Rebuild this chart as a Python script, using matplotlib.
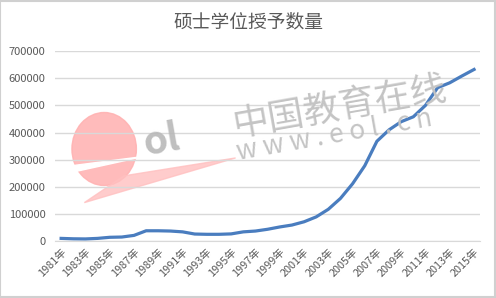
import matplotlib
matplotlib.use("Agg")
import matplotlib.pyplot as plt
from matplotlib.patches import Ellipse, Polygon, Rectangle

plt.rcParams['font.family'] = ['Noto Sans CJK SC', 'DejaVu Sans']

years = list(range(1981, 2016))
values = [11000, 9500, 9000, 11000, 15000, 16000, 22000, 39000, 39000, 38000,
          35000, 27000, 26000, 26000, 27500, 35000, 38000, 44500, 53000, 60000,
          72000, 90000, 118000, 158000, 212000, 278000, 368000, 410000, 440000, 458000,
          500000, 565000, 583000, 608000, 632000]
tick_labels = [f"{y}年" for y in years]
yticks = [0, 100000, 200000, 300000, 400000, 500000, 600000, 700000]
title = "硕士学位授予数量"

fig = plt.figure(figsize=(4.96, 2.98), dpi=100)
fig.patch.set_facecolor('white')
# outer border
fig.add_artist(Rectangle((0.001, 0.003), 0.996, 0.995, transform=fig.transFigure,
                         fill=False, edgecolor='#d0d0d0', lw=1.5))

ax = fig.add_axes([0.111, 0.19, 0.857, 0.639])

# watermark (behind)
wm = dict(transform=fig.transFigure, zorder=0)
fig.add_artist(Ellipse((0.21, 0.50), 0.13, 0.245, angle=0, color='#ffb0b0', alpha=0.85, **wm))
fig.add_artist(Polygon([[0.17, 0.32], [0.475, 0.47], [0.25, 0.41]], closed=True,
                       color='#ffc0c0', alpha=0.8, **wm))
fig.add_artist(Polygon([[0.14, 0.42], [0.29, 0.475], [0.15, 0.445]], closed=True,
                       color='white', **wm))
fig.text(0.282, 0.53, "ol", fontsize=28, color='#b8b8b8', fontweight='bold',
         rotation=10, ha='left', va='center', alpha=0.9, zorder=0)
fig.text(0.47, 0.574, "中国教育在线", fontsize=26, color='#c4c4c4', rotation=10,
         ha='left', va='center', rotation_mode='anchor', zorder=0)
fig.text(0.478, 0.487, "w w w . e o l . c n", fontsize=19, color='#c4c4c4', rotation=10,
         ha='left', va='center', rotation_mode='anchor', zorder=0)

x = list(range(len(years)))
ax.plot(x, values, color='#4a7dbf', lw=2.3, solid_joinstyle='round', zorder=3)

ax.set_xlim(-0.5, len(years) - 0.5)
ax.set_ylim(0, 700000)
ax.set_yticks(yticks)
ax.set_yticklabels([str(v) for v in yticks], fontsize=8, color='#595959')
ax.set_xticks(x[::2])
ax.set_xticklabels(tick_labels[::2], rotation=45, ha='right', rotation_mode='anchor',
                   fontsize=7.8, color='#595959')
ax.tick_params(axis='both', length=0)
ax.tick_params(axis='y', pad=7)
ax.tick_params(axis='x', pad=4)
ax.grid(axis='y', color='#d9d9d9', lw=1)
ax.set_axisbelow(True)
for s in ['top', 'right', 'left']:
    ax.spines[s].set_visible(False)
ax.spines['bottom'].set_color('#d9d9d9')
ax.patch.set_alpha(0)

fig.text(0.5, 0.925, title, fontsize=13.5, color='#595959', ha='center', va='center',
         fontweight='light')

fig.savefig("out.png", dpi=100, facecolor='white')
